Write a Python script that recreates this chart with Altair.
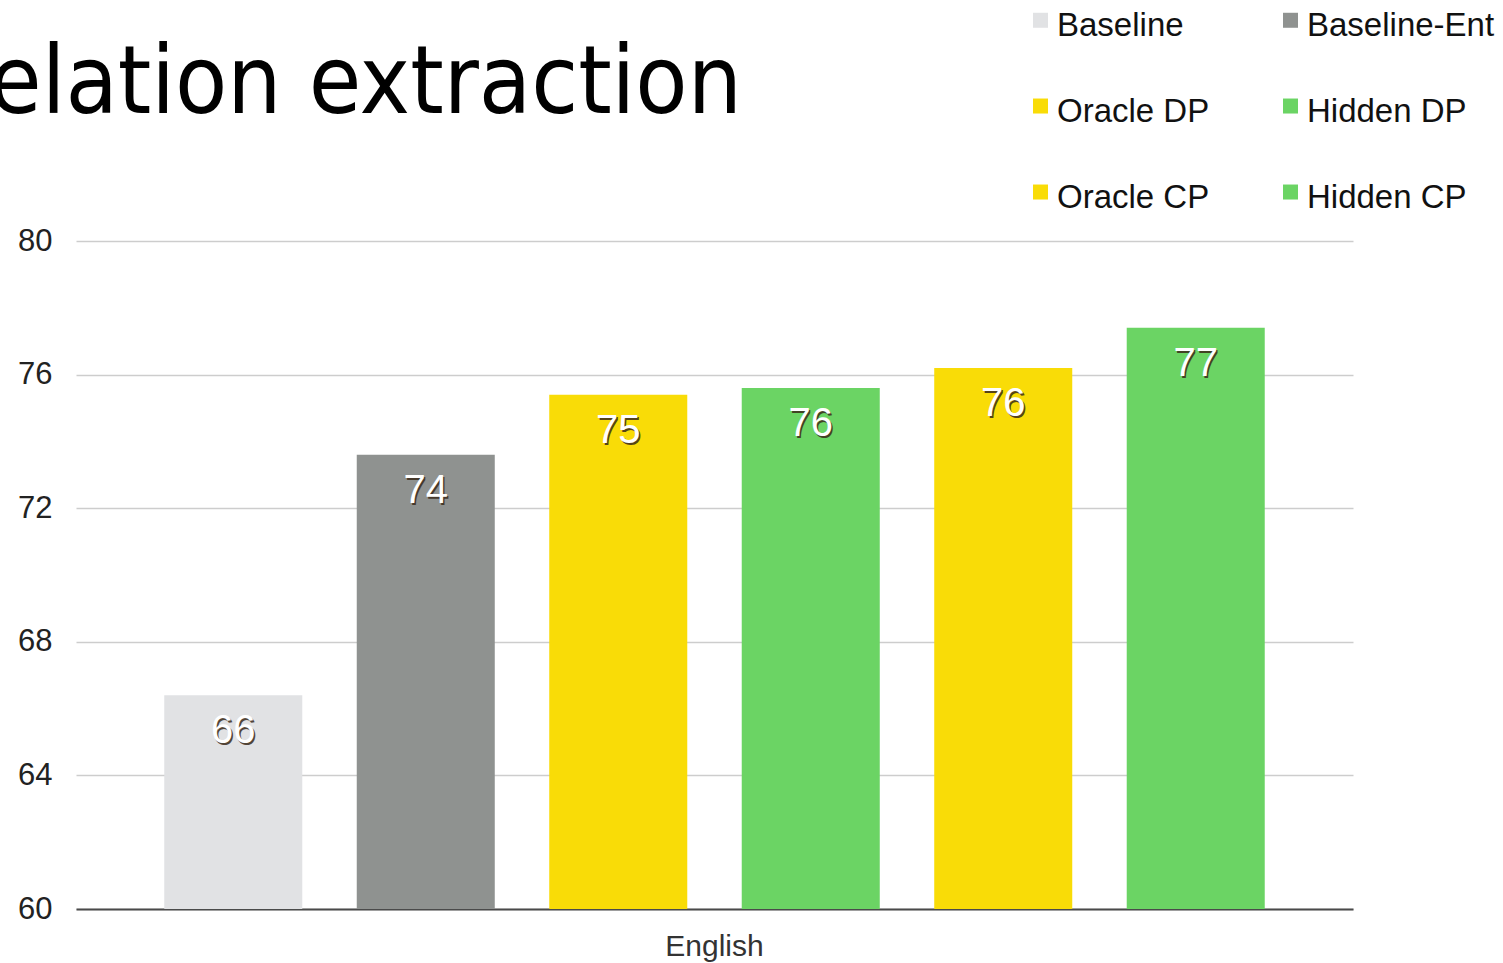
import altair as alt
import pandas as pd

language = ["English"] * 6
series = ["Baseline", "Baseline-Ent", "Oracle DP", "Hidden DP", "Oracle CP", "Hidden CP"]
values = [66.4, 73.6, 75.4, 75.6, 76.2, 77.4]
colors = ["#e1e2e4", "#8f9290", "#f9dc07", "#6bd464", "#f9dc07", "#6bd464"]
y_ticks = [60, 64, 68, 72, 76, 80]

df = pd.DataFrame({"language": language, "series": series, "value": values})

x_enc = alt.X("language:N", title=None,
              scale=alt.Scale(paddingInner=0, paddingOuter=0),
              axis=alt.Axis(labelAngle=0, labelFontSize=30, labelColor="#333333",
                            labelFont="Liberation Sans", labelPadding=22,
                            ticks=False, domain=True, domainColor="#4a4a4a",
                            domainWidth=2, grid=False))
xoff = alt.XOffset("series:N", sort=series,
                   scale=alt.Scale(paddingInner=0.283, paddingOuter=0.4585))
y_enc = alt.Y("value:Q", title=None,
              scale=alt.Scale(domain=[60, 80], nice=False, zero=False),
              axis=alt.Axis(values=y_ticks, labelFontSize=31, labelColor="#222222",
                            labelFont="Liberation Sans", labelPadding=24,
                            ticks=False, domain=False, grid=True,
                            gridColor="#cdcdcd", gridWidth=1.5))

color_enc = alt.Color("series:N", sort=series,
                      scale=alt.Scale(domain=series, range=colors),
                      legend=alt.Legend(title=None, orient="none", legendX=948, legendY=-232,
                                        direction="horizontal",
                                        columns=2, columnPadding=64, rowPadding=52,
                                        labelFontSize=33, labelFont="Liberation Sans",
                                        labelColor="#111111", labelOffset=0, labelLimit=0,
                                        symbolType="M-1,-1.73H1V0.27H-1Z", symbolSize=225,
                                        symbolStrokeWidth=0, symbolOpacity=1,
                                        padding=0))

base = alt.Chart(df)

bars = base.mark_bar(clip=True).encode(x=x_enc, xOffset=xoff, y=y_enc, color=color_enc)

shadow = base.mark_text(baseline="middle", dy=38, dx=1.5, fontSize=40,
                        font="Liberation Sans", color="#3a2a1a", opacity=0.85).encode(
    x=alt.X("language:N"), xOffset=xoff, y=alt.Y("value:Q"),
    text=alt.Text("value:Q", format=".0f"))

labels = base.mark_text(baseline="middle", dy=36, fontSize=40,
                        font="Liberation Sans", color="#ffffff").encode(
    x=alt.X("language:N"), xOffset=xoff, y=alt.Y("value:Q"),
    text=alt.Text("value:Q", format=".0f"))

chart = alt.layer(bars, shadow, labels).properties(
    width=1277, height=668,
    background="#ffffff",
    title=alt.TitleParams("Relation extraction", anchor="start", frame="group",
                          font="DejaVu Sans Condensed", fontSize=95, fontWeight="normal",
                          baseline="alphabetic",
                          color="#000000", dx=-142, dy=219, offset=20),
    autosize=alt.AutoSizeParams(type="none"),
    padding={"left": 76, "top": 241, "right": 150, "bottom": 54},
).configure_view(stroke=None)

chart.save("out.html", embed_options={"renderer": "svg", "actions": False})
